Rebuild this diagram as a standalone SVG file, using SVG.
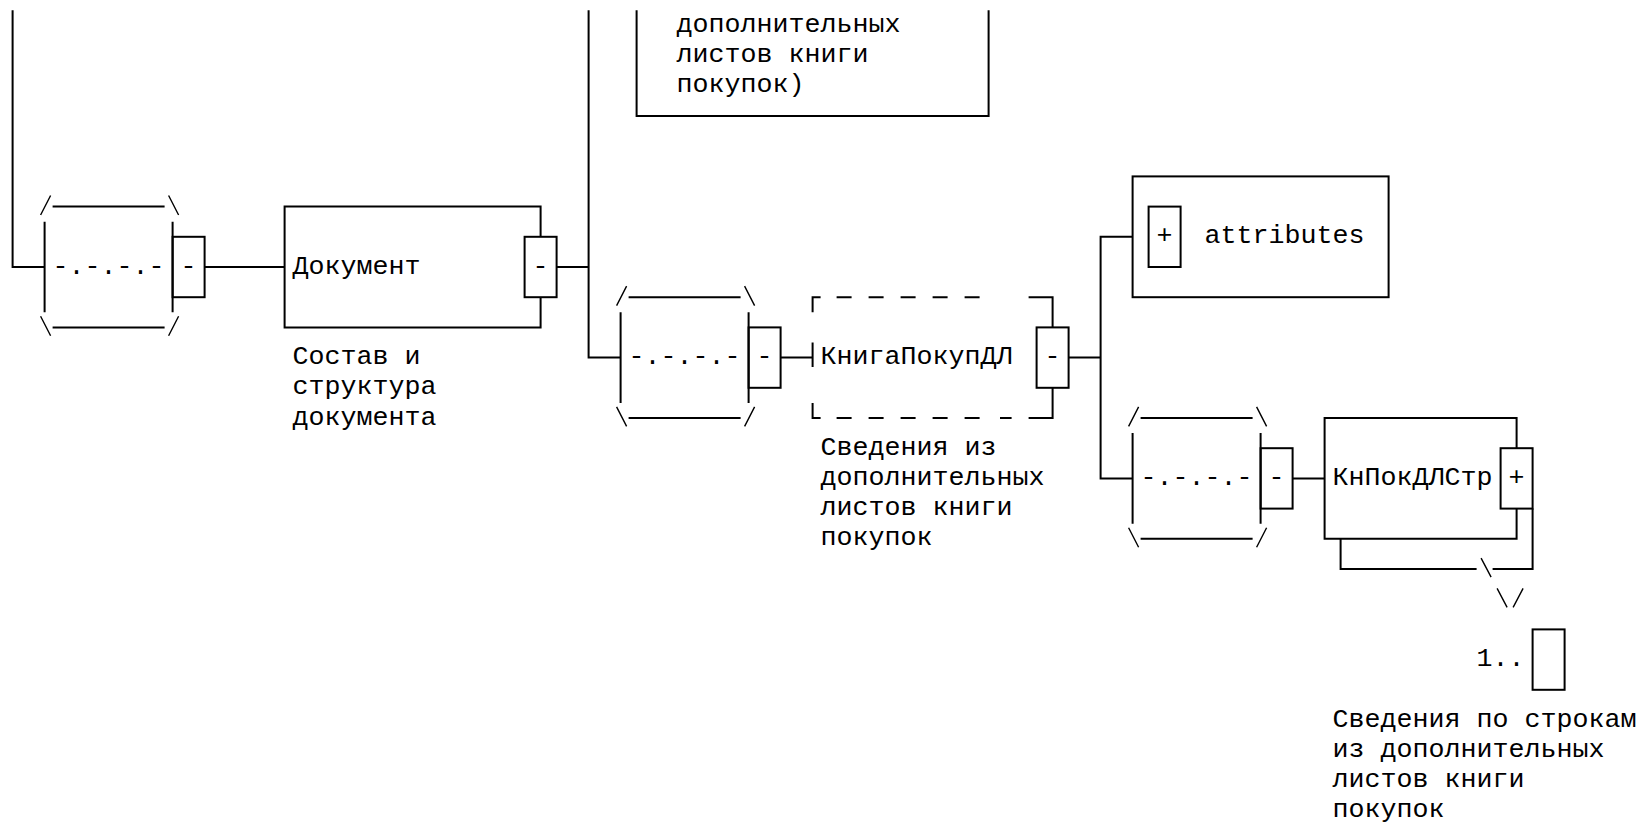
<svg xmlns="http://www.w3.org/2000/svg" width="1648" height="825" viewBox="0 0 1648 825">
<style>
  .ln{fill:none;stroke:#000;stroke-width:2;stroke-linejoin:miter}
  .sl{fill:none;stroke:#000;stroke-width:1.4}
  .ds{fill:none;stroke:#000;stroke-width:2;stroke-dasharray:15 17}
  text{font-family:"Liberation Mono","Courier New",monospace;font-size:26.667px;fill:#000}
</style>
<rect x="0" y="0" width="1648" height="825" fill="#fff"/>

<g id="connectors">
  <path class="ln" d="M12.6,10.3 V267 H44.6"/>
  <path class="ln" d="M204.6,267 H284.6"/>
  <path class="ln" d="M556.6,267 H588.6"/>
  <path class="ln" d="M588.6,10.3 V357.6 H620.6"/>
  <path class="ln" d="M780.6,357.6 H812.6"/>
  <path class="ln" d="M1068.6,357.6 H1100.6"/>
  <path class="ln" d="M1132.6,236.8 H1100.6 V478.4 H1132.6"/>
  <path class="ln" d="M1292.6,478.4 H1324.6"/>
</g>

<g id="node-top">
  <path class="ln" d="M636.6,10.3 V116 H988.6 V10.3"/>
  <text x="676.6" y="31.9">дополнительных</text>
  <text x="676.6" y="62.1">листов книги</text>
  <text x="676.6" y="92.3">покупок)</text>
</g>

<g id="seq1">
  <path class="ln" d="M52.6,206.6 H164.6 M52.6,327.4 H164.6 M44.6,221.7 V312.3 M172.6,221.7 V312.3"/>
  <path class="sl" d="M40.6,215 L50.6,195.5 M168.6,195.5 L178.6,215 M40.6,316.3 L50.6,335.8 M168.6,335.8 L178.6,316.3"/>
  <rect class="ln" x="172.6" y="236.8" width="32" height="60.4"/>
  <text x="52.6" y="273.5">-.-.-.-</text>
  <text x="180.6" y="273.5">-</text>
</g>

<g id="node-dokument">
  <path class="ln" d="M540.6,236.8 V206.6 H284.6 V327.4 H540.6 V297.2"/>
  <rect class="ln" x="524.6" y="236.8" width="32" height="60.4"/>
  <text x="292.6" y="273.5">Документ</text>
  <text x="532.6" y="273.5">-</text>
  <text x="292.6" y="364.1">Состав и</text>
  <text x="292.6" y="394.3">структура</text>
  <text x="292.6" y="424.5">документа</text>
</g>

<g id="seq2">
  <path class="ln" d="M628.6,297.2 H740.6 M628.6,418 H740.6 M620.6,312.3 V402.9 M748.6,312.3 V402.9"/>
  <path class="sl" d="M616.6,305.6 L626.6,286.1 M744.6,286.1 L754.6,305.6 M616.6,406.9 L626.6,426.4 M744.6,426.4 L754.6,406.9"/>
  <rect class="ln" x="748.6" y="327.4" width="32" height="60.4"/>
  <text x="628.6" y="364.1">-.-.-.-</text>
  <text x="756.6" y="364.1">-</text>
</g>

<g id="node-knigapokupdl">
  <path class="ln" d="M812.6,312.3 V297.2 H820.6 M812.6,342.5 V367 M812.6,402.9 V418 H820.6"/>
  <path class="ds" d="M836.6,297.2 H980.6 M836.6,418 H980.6"/>
  <path class="ln" d="M1000,418 H1011.6"/>
  <path class="ln" d="M1028.6,297.2 H1052.6 V327.4 M1052.6,387.8 V418 H1028.6"/>
  <rect class="ln" x="1036.6" y="327.4" width="32" height="60.4"/>
  <text x="820.6" y="364.1">КнигаПокупДЛ</text>
  <text x="1044.6" y="364.1">-</text>
  <text x="820.6" y="454.7">Сведения из</text>
  <text x="820.6" y="484.9">дополнительных</text>
  <text x="820.6" y="515.1">листов книги</text>
  <text x="820.6" y="545.3">покупок</text>
</g>

<g id="node-attributes">
  <rect class="ln" x="1132.6" y="176.4" width="256" height="120.8"/>
  <rect class="ln" x="1148.6" y="206.6" width="32" height="60.4"/>
  <text x="1156.6" y="243.3">+</text>
  <text x="1204.6" y="243.3">attributes</text>
</g>

<g id="seq3">
  <path class="ln" d="M1140.6,418 H1252.6 M1140.6,538.8 H1252.6 M1132.6,433.1 V523.7 M1260.6,433.1 V523.7"/>
  <path class="sl" d="M1128.6,426.4 L1138.6,406.9 M1256.6,406.9 L1266.6,426.4 M1128.6,527.7 L1138.6,547.2 M1256.6,547.2 L1266.6,527.7"/>
  <rect class="ln" x="1260.6" y="448.2" width="32" height="60.4"/>
  <text x="1140.6" y="484.9">-.-.-.-</text>
  <text x="1268.6" y="484.9">-</text>
</g>

<g id="node-knpokdlstr">
  <path class="ln" d="M1516.6,448.2 V418 H1324.6 V538.8 H1516.6 V508.6"/>
  <rect class="ln" x="1500.6" y="448.2" width="32" height="60.4"/>
  <path class="ln" d="M1340.6,538.8 V569 H1476.6 M1492.6,569 H1532.6 V508.6"/>
  <path class="sl" d="M1481.1,558.2 L1491.1,577.2 M1497.1,588.4 L1507.1,607.4 M1513.1,607.4 L1523.1,588.4"/>
  <rect class="ln" x="1532.6" y="629.4" width="32" height="60.4"/>
  <text x="1476.6" y="666.1">1..</text>
  <text x="1332.6" y="484.9">КнПокДЛСтр</text>
  <text x="1508.6" y="484.9">+</text>
  <text x="1332.6" y="726.5">Сведения по строкам</text>
  <text x="1332.6" y="756.7">из дополнительных</text>
  <text x="1332.6" y="786.9">листов книги</text>
  <text x="1332.6" y="817.1">покупок</text>
</g>
</svg>
